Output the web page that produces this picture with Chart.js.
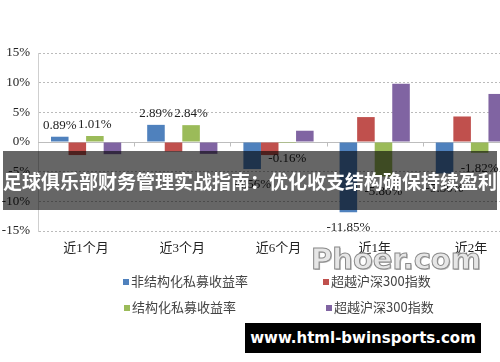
<!DOCTYPE html>
<html>
<head>
<meta charset="utf-8">
<script src="https://cdn.jsdelivr.net/npm/chart.js@4"></script>
<style>
  html, body { margin: 0; padding: 0; background: #fff; }
  #wrap { position: relative; width: 500px; height: 362px; overflow: hidden; }
  #wrap canvas { position: absolute; left: 0; top: 0; }
  .leg { position: absolute; font: 13px "Noto Sans CJK SC", sans-serif; color: #444; line-height: 16px; white-space: nowrap; }
  .leg i { display: inline-block; width: 6px; height: 6px; margin-right: 2px; vertical-align: 1px; }
  #banner { position: absolute; left: 3px; top: 151px; width: 494px; height: 59px; background: rgba(0,0,0,0.6);
    color: #fff; font: bold 19px "Noto Sans CJK SC", sans-serif; line-height: 59px; text-align: center; white-space: nowrap; }
  #mark { position: absolute; left: 311px; top: 242px; font: bold 29px "DejaVu Sans", sans-serif; color: #e6e6e6;
    -webkit-text-stroke: 1px #8a8a8a; text-shadow: 1px 1px 0 #bbb; }
  #site { position: absolute; left: 245px; top: 323px; width: 236px; height: 30px; background: #000; color: #fff;
    font: bold 15px "DejaVu Sans", sans-serif; line-height: 30px; text-align: center; white-space: nowrap; }
</style>
</head>
<body>
<div id="wrap">
  <canvas id="chart" width="540" height="362" style="width:540px;height:362px"></canvas>
  <div class="leg" style="left:123px;top:273px"><i style="background:#4F81BD"></i>非结构化私募收益率</div>
  <div class="leg" style="left:323px;top:273px"><i style="background:#C0504D"></i>超越沪深300指数</div>
  <div class="leg" style="left:124px;top:299px"><i style="background:#9BBB59"></i>结构化私募收益率</div>
  <div class="leg" style="left:326px;top:299px"><i style="background:#8064A2"></i>超越沪深300指数</div>
  <div id="mark">Phoer.com</div>
  <div id="banner">足球俱乐部财务管理实战指南：优化收支结构确保持续盈利</div>
  <div id="site">www.html-bwinsports.com</div>
</div>
<script>
const periods = ['近1个月', '近3个月', '近6个月', '近1年', '近2年'];
const unstructured = [0.89, 2.89, -4.56, -11.85, -5.3];
const excessA = [-2.2, -1.6, -2.2, 4.2, 4.3];
const structured = [1.01, 2.84, -0.16, -5.8, -1.82];
const excessB = [-2.05, -2.0, 1.9, 9.8, 8.1];

// zero line and little category ticks on it
const zeroAxis = {
  id: 'zeroAxis',
  beforeDatasetsDraw(chart) {
    const { ctx, chartArea, scales } = chart;
    const y0 = Math.round(scales.y.getPixelForValue(0)) + 0.5;
    ctx.save();
    ctx.strokeStyle = '#bdbdbd';
    ctx.lineWidth = 1;
    ctx.beginPath();
    ctx.moveTo(chartArea.left, y0);
    ctx.lineTo(chartArea.right, y0);
    for (let i = 1; i < periods.length; i++) {
      const x = Math.round((scales.x.getPixelForValue(i - 1) + scales.x.getPixelForValue(i)) / 2) + 0.5;
      ctx.moveTo(x, y0);
      ctx.lineTo(x, y0 + 4);
    }
    ctx.stroke();
    ctx.restore();
  }
};

// value labels for the two private fund series
const valueLabels = {
  id: 'valueLabels',
  afterDatasetsDraw(chart) {
    const ctx = chart.ctx;
    ctx.save();
    ctx.font = '13px "Liberation Serif", serif';
    ctx.fillStyle = '#222';
    ctx.textAlign = 'center';
    [0, 2].forEach(di => {
      const meta = chart.getDatasetMeta(di);
      meta.data.forEach((bar, i) => {
        const v = chart.data.datasets[di].data[i];
        const text = v.toFixed(2) + '%';
        if (v >= 0) {
          ctx.textBaseline = 'bottom';
          ctx.fillText(text, bar.x, bar.y - 5);
        } else {
          ctx.textBaseline = 'top';
          ctx.fillText(text, bar.x, bar.y + 9);
        }
      });
    });
    ctx.restore();
  }
};

new Chart(document.getElementById('chart'), {
  type: 'bar',
  data: {
    labels: periods,
    datasets: [
      { label: '非结构化私募收益率', data: unstructured, backgroundColor: '#4F81BD' },
      { label: '超越沪深300指数', data: excessA, backgroundColor: '#C0504D' },
      { label: '结构化私募收益率', data: structured, backgroundColor: '#9BBB59' },
      { label: '超越沪深300指数', data: excessB, backgroundColor: '#8064A2' }
    ]
  },
  options: {
    responsive: false,
    animation: false,
    layout: { padding: { left: 0, right: 21, top: 53, bottom: 0 } },
    datasets: { bar: { categoryPercentage: 0.73, barPercentage: 1.0, borderWidth: 0 } },
    plugins: {
      legend: { display: false },
      tooltip: { enabled: false }
    },
    scales: {
      x: {
        grid: { display: false, drawTicks: false },
        border: { display: false },
        ticks: {
          color: '#222',
          padding: 10,
          font: { family: '"Liberation Serif", "Noto Sans CJK SC"', size: 13 }
        },
        afterFit: s => { s.height = 131; }
      },
      y: {
        min: -15,
        max: 15,
        grid: {
          drawTicks: false,
          color: c => c.tick && c.tick.value === 0 ? 'rgba(0,0,0,0)' : '#bbbbbb'
        },
        border: { display: true, color: '#cfcfcf', dash: [2, 2] },
        ticks: {
          stepSize: 5,
          padding: 8,
          color: '#222',
          font: { family: '"Liberation Serif", serif', size: 13 },
          callback: v => v + '%'
        },
        afterFit: s => { s.width = 38; }
      }
    }
  },
  plugins: [zeroAxis, valueLabels]
});
</script>
</body>
</html>
